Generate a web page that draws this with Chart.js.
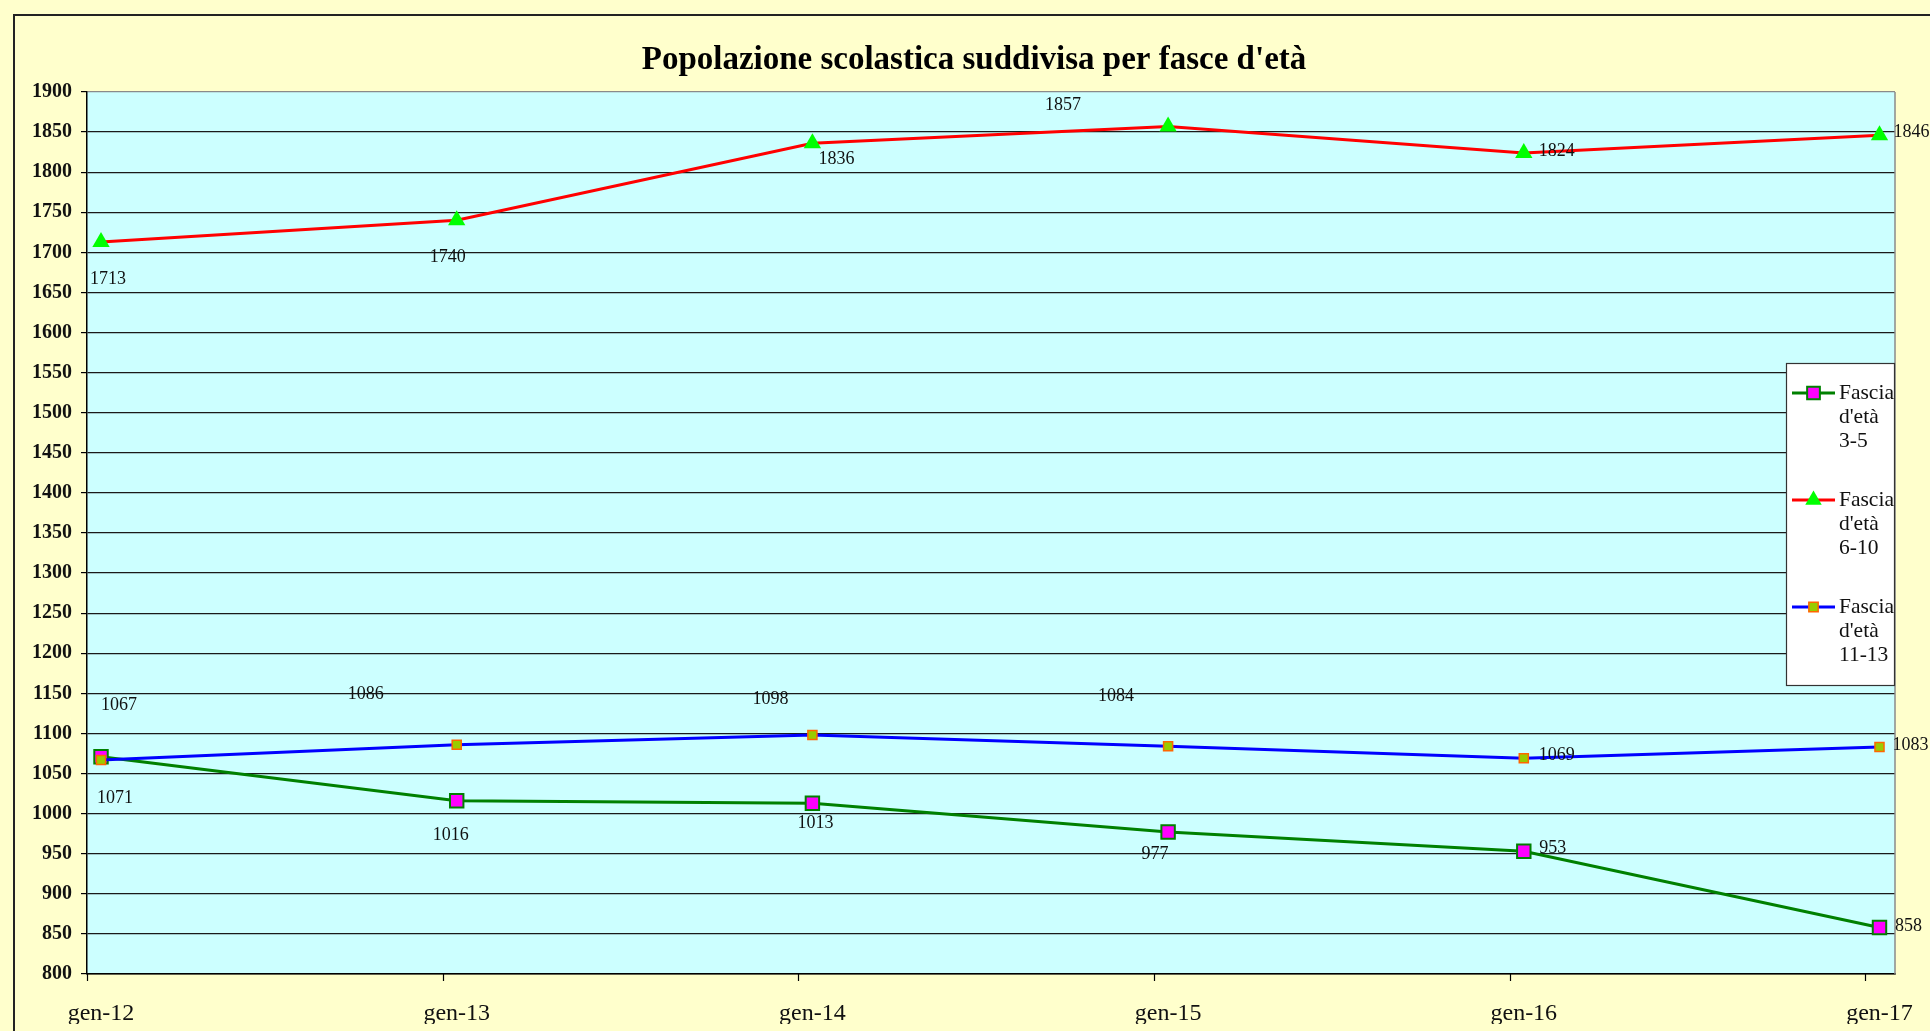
<!DOCTYPE html>
<html><head><meta charset="utf-8">
<script src="https://cdn.jsdelivr.net/npm/chart.js@4.4.1/dist/chart.umd.min.js"></script>
<style>
html,body{margin:0;padding:0;background:#FFFFCC;overflow:hidden;width:1930px;height:1031px;}
#frame{position:absolute;left:13px;top:14px;width:1940px;height:1040px;border-left:2px solid #222;border-top:2px solid #222;}
canvas{position:absolute;left:0;top:0;}
</style></head><body>
<div id="frame"></div>
<canvas id="c" width="1930" height="1031"></canvas>
<script>
const chartTitle = "Popolazione scolastica suddivisa per fasce d'età";
const categories = ['gen-12','gen-13','gen-14','gen-15','gen-16','gen-17'];
const seriesNames = ["Fascia d'età 3-5", "Fascia d'età 6-10", "Fascia d'età 11-13"];
const age3to5 = [1071, 1016, 1013, 977, 953, 858];
const age6to10 = [1713, 1740, 1836, 1857, 1824, 1846];
const age11to13 = [1067, 1086, 1098, 1084, 1069, 1083];
const yMin = 800, yMax = 1900, yStep = 50;

// layout / style (not data)
const X_MIN = -0.0394, X_MAX = 5.0436;
const labelOffsets = [
  [[14,42],[-6,34],[3,20],[-13,22],[29,-3],[29,-1]],
  [[7,37],[-9,37],[24,16],[-105,-21],[33,-2],[32,-3]],
  [[18,-55],[-91,-50],[-42,-36],[-52,-50],[33,-3],[31,-2]]
];
const SERIF = "'Liberation Serif', 'Times New Roman', serif";

function toPts(arr){ return arr.map((v,i)=>({x:i, y:v})); }

const datasets = [
  {label: seriesNames[0], data: toPts(age3to5), borderColor:'#008000', borderWidth:3,
   pointStyle:'rect', pointRadius:9.5, pointBackgroundColor:'#FF00FF', pointBorderColor:'#008000', pointBorderWidth:2, order:3, legendR:9},
  {label: seriesNames[1], data: toPts(age6to10), borderColor:'#FF0000', borderWidth:3,
   pointStyle:'triangle', pointRadius:10, pointBackgroundColor:'#00FF00', pointBorderColor:'#00FF00', pointBorderWidth:0, order:2, legendR:9.5},
  {label: seriesNames[2], data: toPts(age11to13), borderColor:'#0000FF', borderWidth:3,
   pointStyle:'rect', pointRadius:6.4, pointBackgroundColor:'#99CC00', pointBorderColor:'#FF6600', pointBorderWidth:1.5, order:1, legendR:6.6}
];
datasets.forEach(d=>{ d.tension=0; d.fill=false; d.pointHoverRadius=d.pointRadius; });

function drawMarker(ctx, style, x, y, r, fill, stroke, bw){
  ctx.save();
  ctx.beginPath();
  if (style === 'rect') {
    const s = r / Math.SQRT2;
    ctx.rect(x - s, y - s, 2*s, 2*s);
  } else {
    const h = r;
    ctx.moveTo(x, y - h);
    ctx.lineTo(x + h*Math.sqrt(3)/2, y + h/2);
    ctx.lineTo(x - h*Math.sqrt(3)/2, y + h/2);
    ctx.closePath();
  }
  ctx.fillStyle = fill; ctx.fill();
  if (bw > 0) { ctx.lineWidth = bw; ctx.strokeStyle = stroke; ctx.stroke(); }
  ctx.restore();
}

const decor = {
  id: 'decor',
  beforeDraw(chart){
    const {ctx, chartArea:a} = chart;
    ctx.save();
    ctx.fillStyle = '#CCFFFF';
    ctx.fillRect(a.left, a.top, a.right - a.left, a.bottom - a.top);
    ctx.restore();
  },
  afterDatasetsDraw(chart){
    const {ctx, chartArea:a} = chart;
    const xs = chart.scales.x;
    ctx.save();
    ctx.strokeStyle = '#8A8A8A'; ctx.lineWidth = 1.5;
    ctx.beginPath(); ctx.moveTo(a.right, a.top); ctx.lineTo(a.right, a.bottom); ctx.stroke();
    ctx.strokeStyle = '#000'; ctx.lineWidth = 1.2;
    categories.forEach((c,i)=>{
      const px = Math.round(xs.getPixelForValue(i + X_MIN)) + 0.5;
      ctx.beginPath(); ctx.moveTo(px, a.bottom); ctx.lineTo(px, a.bottom + 7); ctx.stroke();
    });
    ctx.font = '18px ' + SERIF;
    ctx.fillStyle = '#111';
    ctx.textAlign = 'center'; ctx.textBaseline = 'middle';
    chart.data.datasets.forEach((ds, di)=>{
      const meta = chart.getDatasetMeta(di);
      meta.data.forEach((pt, i)=>{
        const off = labelOffsets[di][i];
        ctx.fillText(String(ds.data[i].y), pt.x + off[0], pt.y + off[1]);
      });
    });
    ctx.font = 'bold 33px ' + SERIF;
    ctx.fillStyle = '#000';
    ctx.textAlign = 'center'; ctx.textBaseline = 'alphabetic';
    ctx.fillText(chartTitle, 974, 69);
    const lx = a.right - 109, ly = 363, lw = 109, lh = 323;
    ctx.fillStyle = '#FFFFFF';
    ctx.fillRect(lx, ly, lw, lh);
    ctx.strokeStyle = '#333'; ctx.lineWidth = 1.2;
    ctx.strokeRect(lx + 0.5, ly + 0.5, lw - 1, lh - 1);
    ctx.font = '21.5px ' + SERIF;
    ctx.textAlign = 'left'; ctx.textBaseline = 'middle';
    chart.data.datasets.forEach((ds, di)=>{
      const cy = 393 + di * 107;
      ctx.strokeStyle = ds.borderColor; ctx.lineWidth = 3;
      ctx.beginPath(); ctx.moveTo(lx + 6, cy); ctx.lineTo(lx + 49, cy); ctx.stroke();
      drawMarker(ctx, ds.pointStyle, lx + 27.5, cy, ds.legendR, ds.pointBackgroundColor, ds.pointBorderColor, ds.pointBorderWidth);
      const words = ds.label.split(' ');
      ctx.fillStyle = '#111';
      words.forEach((w, k)=> ctx.fillText(w, lx + 53, cy + k * 24));
    });
    ctx.restore();
  }
};

new Chart(document.getElementById('c'), {
  type: 'line',
  data: { datasets },
  plugins: [decor],
  options: {
    responsive: false, animation: false, devicePixelRatio: 1,
    layout: { padding: { left: 0, top: 92, right: 35, bottom: 7 } },
    plugins: { legend: {display:false}, title: {display:false}, tooltip: {enabled:false} },
    scales: {
      x: {
        type: 'linear', min: X_MIN, max: X_MAX,
        afterBuildTicks(scale){ scale.ticks = categories.map((c,i)=>({value:i})); },
        afterFit(scale){ scale.height = 50; scale.paddingLeft = 0; scale.paddingRight = 0; },
        ticks: { autoSkip:false, maxRotation:0, padding: 25, color:'#111',
                 font:{family:SERIF, size:24},
                 callback:(v)=> categories[Math.round(v)] },
        grid: { display:true, drawOnChartArea:false, drawTicks:false },
        border: { display:true, color:'#000', width:1.5 }
      },
      y: {
        min: yMin, max: yMax,
        afterFit(scale){ scale.width = 87; scale.paddingTop = 0; scale.paddingBottom = 0; },
        ticks: { stepSize: yStep, padding: 9, color:'#111', font:{family:SERIF, size:20, weight:'bold'},
                 callback:(v)=> String(v) },
        grid: { color:(c)=> c.tick && c.tick.value === yMax ? '#8A8A8A' : '#1a1a1a', lineWidth:1.2, tickLength:6, tickColor:'#000' },
        border: { display:true, color:'#000', width:1.5 }
      }
    }
  }
});
</script>
</body></html>
